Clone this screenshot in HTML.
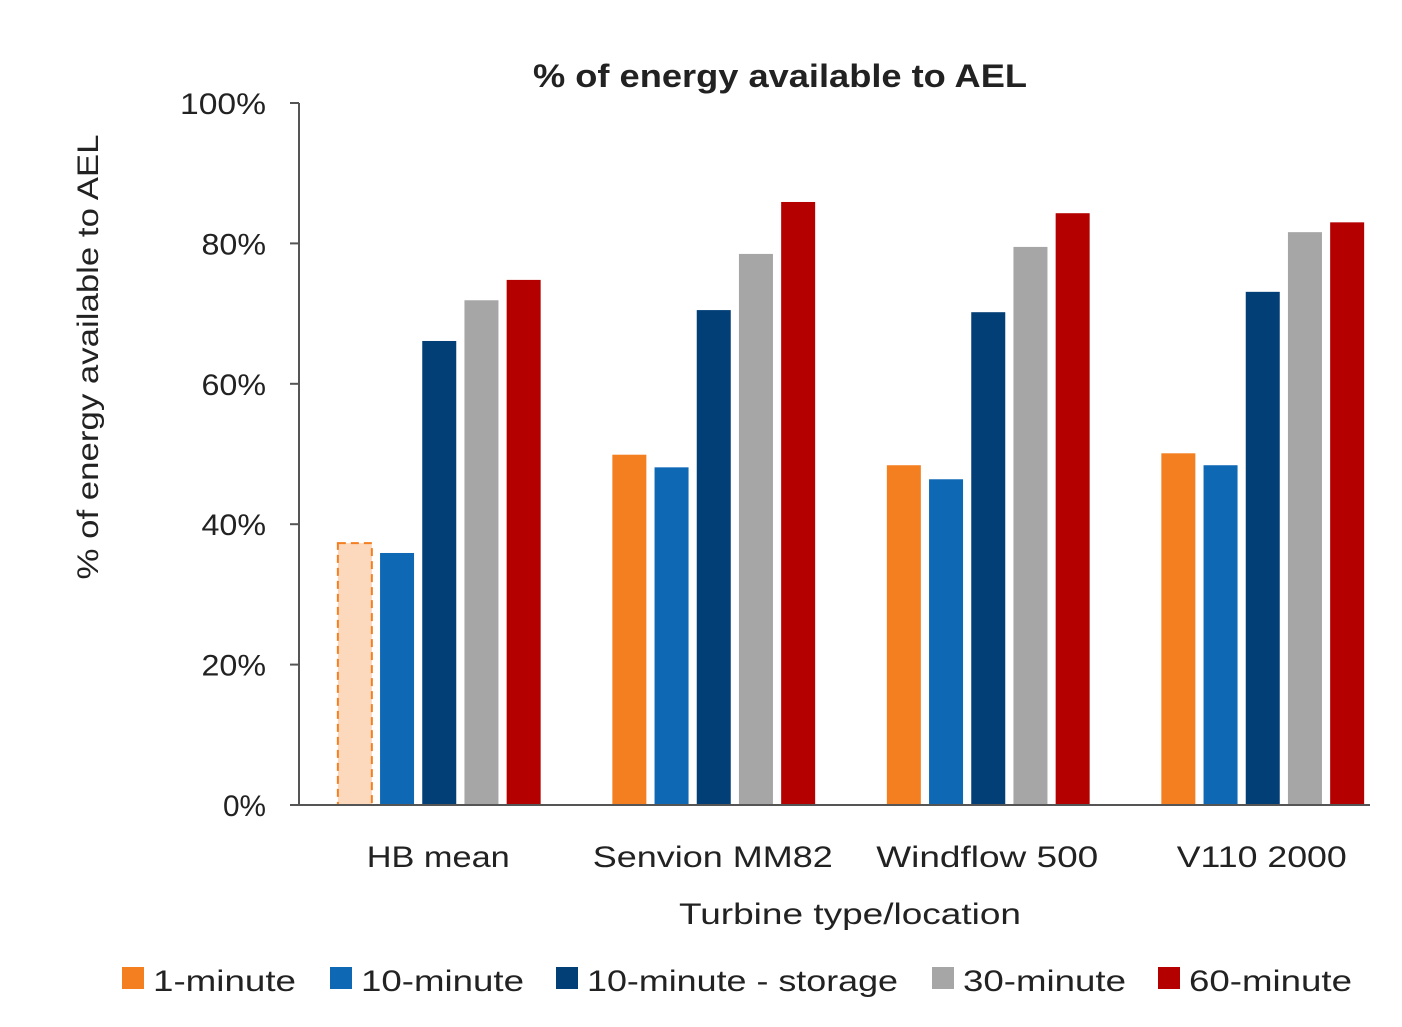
<!DOCTYPE html>
<html><head><meta charset="utf-8"><style>
body{margin:0;background:#fff;}
svg{display:block;font-family:"Liberation Sans",sans-serif;}
</style></head><body>
<svg id="chart" width="1402" height="1027" viewBox="0 0 1402 1027">
<text x="780" y="87" text-anchor="middle" font-size="32" font-weight="bold" fill="#222" textLength="494" lengthAdjust="spacingAndGlyphs">% of energy available to AEL</text>
<text transform="translate(98,357) rotate(-90)" text-anchor="middle" font-size="30" fill="#222" textLength="445" lengthAdjust="spacingAndGlyphs">% of energy available to AEL</text>
<text x="850" y="924" text-anchor="middle" font-size="30" fill="#222" textLength="342" lengthAdjust="spacingAndGlyphs">Turbine type/location</text>
<g id="yticks"></g><g id="bars"></g><g id="xlabels"></g>
<line x1="299" y1="103" x2="299" y2="805" stroke="#555" stroke-width="2"/>
<line x1="290" y1="805" x2="1370" y2="805" stroke="#555" stroke-width="2"/>
<g id="legend"></g>
</svg>
<script>
const categories=["HB mean","Senvion MM82","Windflow 500","V110 2000"];
const seriesNames=["1-minute","10-minute","10-minute - storage","30-minute","60-minute"];
const s1min=[37.3,49.9,48.4,50.1];
const s10min=[35.9,48.1,46.4,48.4];
const s10store=[66.1,70.5,70.2,73.1];
const s30min=[71.9,78.5,79.5,81.6];
const s60min=[74.8,85.9,84.3,83.0];
const yTicks=[0,20,40,60,80,100];
const colors=["#f47f20","#0e68b4","#023f77","#a6a6a6","#b50000"];
const series=[s1min,s10min,s10store,s30min,s60min];
const NS="http://www.w3.org/2000/svg";
const y0=805,y1=103,x0=299,groupW=274.5;
const yS=v=>y0-(v/100)*(y0-y1);
const xC=i=>x0+groupW*(i+0.5)+3;
function mk(t,a,p){const e=document.createElementNS(NS,t);for(const k in a)e.setAttribute(k,a[k]);p.appendChild(e);return e;}
const yt=document.getElementById('yticks');
yTicks.forEach(v=>{const t=mk('text',{x:266,y:yS(v)+11,'text-anchor':'end','font-size':30,fill:'#222'},yt);t.textContent=v+'%';
t.setAttribute('textLength',String(v+'%').length*21.5);
t.setAttribute('lengthAdjust','spacingAndGlyphs');


const l=mk('line',{x1:290,x2:299,y1:yS(v),y2:yS(v),stroke:'#555','stroke-width':2},yt);

});
const bg=document.getElementById('bars');
const step=42.2,bw=34;
const xlW=[143,240,222,170];
categories.forEach((c,i)=>{
 series.forEach((s,j)=>{
  const x=xC(i)+(j-2)*step-bw/2;const y=yS(s[i]);
  const dashed=(i===0&&j===0);
  const r=mk('rect',{x:x,y:y,width:bw,height:y0-y,fill:dashed?'#fcd9bd':colors[j]},bg);
  if(dashed){r.setAttribute('stroke','#f47f20');r.setAttribute('stroke-width','2');r.setAttribute('stroke-dasharray','8,5');}
  
  
 });
 const t=mk('text',{x:xC(i)-1,y:867,'text-anchor':'middle','font-size':30,fill:'#222',textLength:xlW[i],lengthAdjust:'spacingAndGlyphs'},document.getElementById('xlabels'));
 t.textContent=c;
 
 
});
const lg=document.getElementById('legend');
const lx=[122,330,556,932,1158];
const lw=[143,163,311,163,163];
seriesNames.forEach((n,j)=>{
 const r=mk('rect',{x:lx[j],y:967,width:22,height:22,fill:colors[j]},lg);
 
 
 const t=mk('text',{x:lx[j]+31,y:991,'font-size':30,fill:'#222',textLength:lw[j],lengthAdjust:'spacingAndGlyphs'},lg);
 t.textContent=n;
 
 
});
</script>
</body></html>
